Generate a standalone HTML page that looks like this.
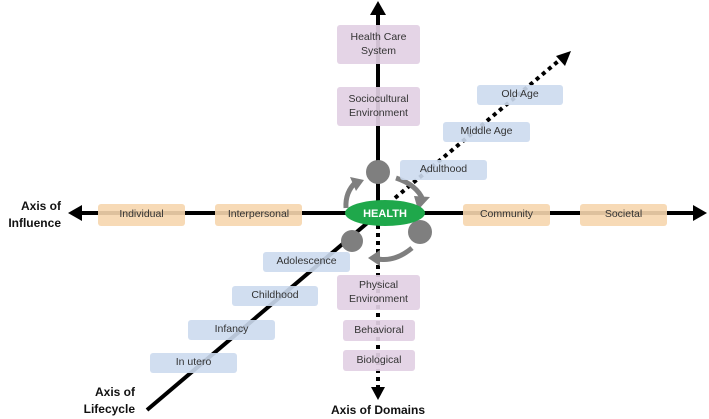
<!DOCTYPE html>
<html><head><style>
body{margin:0;width:709px;height:418px;background:#fff;overflow:hidden;font-family:"Liberation Sans",sans-serif}
.b{position:absolute;display:flex;align-items:center;justify-content:center;text-align:center;font-size:10.5px;color:#333;border-radius:3px;line-height:1.25}
.o{background:rgba(246,214,174,0.9)}
.p{background:rgba(226,208,228,0.92)}
.l{background:rgba(204,218,238,0.9)}
.t{position:absolute;font-weight:bold;font-size:12px;color:#111;text-align:right;line-height:17px}
</style></head><body>
<svg width="709" height="418" style="position:absolute;left:0;top:0">
<line x1="378" y1="213" x2="78" y2="213" stroke="#000" stroke-width="4"/>
<path d="M68,213L82,205L82,221z"/>
<line x1="378" y1="213" x2="697" y2="213" stroke="#000" stroke-width="4"/>
<path d="M707,213L693,205L693,221z"/>
<line x1="378" y1="213" x2="378" y2="12" stroke="#000" stroke-width="4"/>
<path d="M378,1L370,15L386,15z"/>
<line x1="378" y1="225" x2="378" y2="388" stroke="#000" stroke-width="4" stroke-dasharray="4,4"/>
<path d="M378,400L371,387L385,387z"/>
<line x1="147" y1="410" x2="372" y2="219" stroke="#000" stroke-width="4"/>
<line x1="395" y1="198" x2="562" y2="58" stroke="#000" stroke-width="4" stroke-dasharray="4,4"/>
<path d="M571,51L556,56L565,66z"/>
<g fill="#7f7f7f"><circle cx="378" cy="172" r="12"/><circle cx="420" cy="232" r="12"/><circle cx="352" cy="241" r="11"/></g>
<g fill="none" stroke="#7f7f7f" stroke-width="5">
<path d="M346,208 Q345,192 356,182"/><path d="M396,178 Q417,185 423,200"/><path d="M412,248 Q395,262 378,259"/>
</g>
<g fill="#7f7f7f"><path d="M350,177L364,180L356,191z"/><path d="M418,210L430,197L414,196z"/><path d="M368,258L380,250L380,266z"/></g>
<ellipse cx="385" cy="213" rx="40" ry="13" fill="#1fa84b"/>
<text x="385" y="217" font-size="11" font-weight="bold" fill="#fff" text-anchor="middle" font-family="Liberation Sans">HEALTH</text>
</svg>
<div class="b o" style="left:98px;top:204px;width:87px;height:22px">Individual</div>
<div class="b o" style="left:215px;top:204px;width:87px;height:22px">Interpersonal</div>
<div class="b o" style="left:463px;top:204px;width:87px;height:22px">Community</div>
<div class="b o" style="left:580px;top:204px;width:87px;height:22px">Societal</div>
<div class="b p" style="left:337px;top:25px;width:83px;height:39px">Health Care<br>System</div>
<div class="b p" style="left:337px;top:87px;width:83px;height:39px">Sociocultural<br>Environment</div>
<div class="b p" style="left:337px;top:275px;width:83px;height:35px">Physical<br>Environment</div>
<div class="b p" style="left:343px;top:320px;width:72px;height:21px">Behavioral</div>
<div class="b p" style="left:343px;top:350px;width:72px;height:21px">Biological</div>
<div class="b l" style="left:477px;top:85px;width:86px;height:20px">Old Age</div>
<div class="b l" style="left:443px;top:122px;width:87px;height:20px">Middle Age</div>
<div class="b l" style="left:400px;top:160px;width:87px;height:20px">Adulthood</div>
<div class="b l" style="left:263px;top:252px;width:87px;height:20px">Adolescence</div>
<div class="b l" style="left:232px;top:286px;width:86px;height:20px">Childhood</div>
<div class="b l" style="left:188px;top:320px;width:87px;height:20px">Infancy</div>
<div class="b l" style="left:150px;top:353px;width:87px;height:20px">In utero</div>
<div class="t" style="left:0;top:198px;width:61px">Axis of<br>Influence</div>
<div class="t" style="left:40px;top:384px;width:95px">Axis of<br>Lifecycle</div>
<div class="t" style="left:318px;top:402px;width:120px;text-align:center">Axis of Domains</div>
</body></html>
